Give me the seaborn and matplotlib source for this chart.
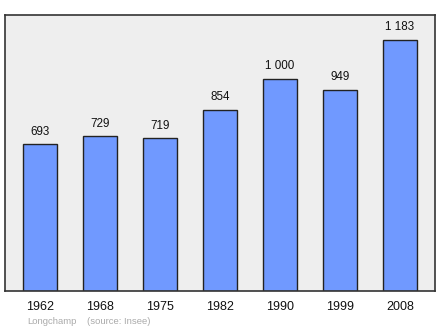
import matplotlib
matplotlib.use("Agg")
import matplotlib.pyplot as plt
import seaborn as sns
import pandas as pd

years = ["1962", "1968", "1975", "1982", "1990", "1999", "2008"]
population = [693, 729, 719, 854, 1000, 949, 1183]
value_labels = ["693", "729", "719", "854", "1 000", "949", "1 183"]

sns.set_style("white")
plt.rcParams['font.family'] = ['Liberation Sans', 'DejaVu Sans']

df = pd.DataFrame({"year": years, "pop": population})

fig = plt.figure(figsize=(4.4, 3.29), dpi=100)
ax = fig.add_axes([5/440, 38/329, 430/440, 276/329])
ax.set_facecolor("#eeeeee")

sns.barplot(data=df, x="year", y="pop", order=years, color="#7099ff",
            saturation=1, width=0.57, edgecolor="#222222", linewidth=1.0, ax=ax)

for i, (v, lab) in enumerate(zip(population, value_labels)):
    ax.text(i, v + 30, lab, ha="center", va="bottom", fontsize=8.4, color="#111111")

ax.set_xlim(-0.583, 6.583)
ax.set_ylim(0, 1300)
ax.set_yticks([])
ax.set_xlabel("")
ax.set_ylabel("")
ax.tick_params(axis="x", length=0, pad=7, labelsize=9, colors="#111111")
for s in ax.spines.values():
    s.set_visible(True)
    s.set_color("#333333")
    s.set_linewidth(1.2)

fig.text(27/440, 1 - 321/329, "Longchamp", fontsize=6.8, color="#aaaaaa", va="center", ha="left")
fig.text(87/440, 1 - 321/329, "(source: Insee)", fontsize=6.8, color="#aaaaaa", va="center", ha="left")

fig.savefig("out.png", dpi=100, facecolor="white")
